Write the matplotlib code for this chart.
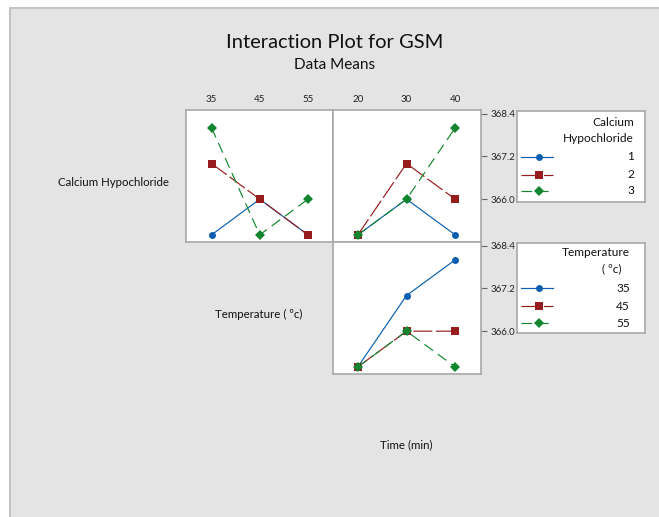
import matplotlib.pyplot as plt
from matplotlib.patches import Rectangle

plt.rcParams['font.family'] = ['Lato', 'DejaVu Sans']

# factor levels
temperature = [35, 45, 55]
time_min = [20, 30, 40]
calcium = [1, 2, 3]

# GSM means, Calcium Hypochloride (rows) by Temperature (cols)
ca_by_temp = [[365, 366, 365],
              [367, 366, 365],
              [368, 365, 366]]
# Calcium Hypochloride (rows) by Time (cols)
ca_by_time = [[365, 366, 365],
              [365, 367, 366],
              [365, 366, 368]]
# Temperature (rows) by Time (cols)
temp_by_time = [[365, 367, 368],
                [365, 366, 366],
                [365, 366, 365]]

y_ticks = [366.0, 367.2, 368.4]

colors = ['#0b5fae', '#961c1e', '#13852e']
markers = ['o', 's', 'D']
msizes = [5, 5.5, 5]
dashes = [None, (16, 3), (9, 5)]

W, H = 659, 517
fig = plt.figure(figsize=(W / 100, H / 100), dpi=100)
fig.patch.set_facecolor('white')

# gray backdrop with a thin border on the top/left
fig.patches.append(Rectangle((10 / W, -0.01), 1, 1.01 - 8 / H, transform=fig.transFigure,
                             facecolor='#e4e4e4', edgecolor='#c4c4c4', lw=1.5,
                             zorder=-5))


def box(x0, y0, x1, y1):
    return [x0 / W, 1 - y1 / H, (x1 - x0) / W, (y1 - y0) / H]


def draw_panel(ax, xs, table, xlim):
    for i, row in enumerate(table):
        ln, = ax.plot(xs, row, color=colors[i], lw=0.85, marker=markers[i],
                      ms=msizes[i], markeredgewidth=0)
        if dashes[i]:
            ln.set_dashes(dashes[i])
    ax.set_xlim(*xlim)
    ax.set_ylim(364.8, 368.5)
    for s in ax.spines.values():
        s.set_color('#a8a8a8')
        s.set_linewidth(1.2)
    ax.tick_params(labelsize=7, colors='#222222')


ax_tl = fig.add_axes(box(186, 110, 333, 242))
ax_tr = fig.add_axes(box(333, 110, 481, 242))
ax_br = fig.add_axes(box(333, 242, 481, 374))

draw_panel(ax_tl, temperature, ca_by_temp, (29.7, 60.2))
draw_panel(ax_tr, time_min, ca_by_time, (14.9, 45.3))
draw_panel(ax_br, time_min, temp_by_time, (14.9, 45.3))

for ax, xs in [(ax_tl, temperature), (ax_tr, time_min)]:
    ax.xaxis.tick_top()
    ax.set_xticks(xs)
    ax.tick_params(axis='x', length=0, pad=4)
ax_br.set_xticks([])

ax_tl.set_yticks([])
for ax in [ax_tr, ax_br]:
    ax.yaxis.tick_right()
    ax.set_yticks(y_ticks)
    ax.set_yticklabels([f'{v:.1f}' for v in y_ticks])
    ax.tick_params(axis='y', length=4, width=0.8, color='#666666', pad=3)

# titles and factor labels
fig.text(335 / W, 1 - 42 / H, 'Interaction Plot for GSM', ha='center', va='center',
         fontsize=14.5, color='#111111')
fig.text(335 / W, 1 - 65 / H, 'Data Means', ha='center', va='center',
         fontsize=11, color='#111111')
fig.text(113 / W, 1 - 183 / H, 'Calcium Hypochloride', ha='center', va='center',
         fontsize=8.3, color='#111111')
fig.text(259 / W, 1 - 314 / H, 'Temperature ( ºc)', ha='center', va='center',
         fontsize=8.3, color='#111111')
fig.text(406 / W, 1 - 445 / H, 'Time (min)', ha='center', va='center',
         fontsize=8.3, color='#111111')


def draw_key(rect, title_lines, labels, right):
    lax = fig.add_axes(box(*rect))
    lax.set_xlim(rect[0], rect[2])
    lax.set_ylim(rect[3], rect[1])
    lax.set_xticks([])
    lax.set_yticks([])
    for s in lax.spines.values():
        s.set_color('#a8a8a8')
        s.set_linewidth(1.2)
    for tx, ty, tr in title_lines:
        lax.text(tr, ty, tx, ha='right', va='center', fontsize=8.6, color='#111111')
    for i, (lab, ly) in enumerate(labels):
        ln, = lax.plot([521, 553], [ly, ly], color=colors[i], lw=0.85)
        if dashes[i]:
            ln.set_dashes(dashes[i])
        lax.plot([538.5], [ly], color=colors[i], marker=markers[i], ms=msizes[i],
                 markeredgewidth=0)
        lax.text(right, ly, lab, ha='right', va='center', fontsize=8.6, color='#111111')


draw_key((517, 111, 645, 202),
         [('Calcium', 122, 634), ('Hypochloride', 139, 634)],
         [(str(c), y) for c, y in zip(calcium, [157, 175, 191])], 634)
draw_key((517, 243, 645, 333),
         [('Temperature', 253, 630), ('( ºc)', 269, 621)],
         [(str(t), y) for t, y in zip(temperature, [288, 306, 323])], 630)

fig.savefig('out.png', dpi=100)
